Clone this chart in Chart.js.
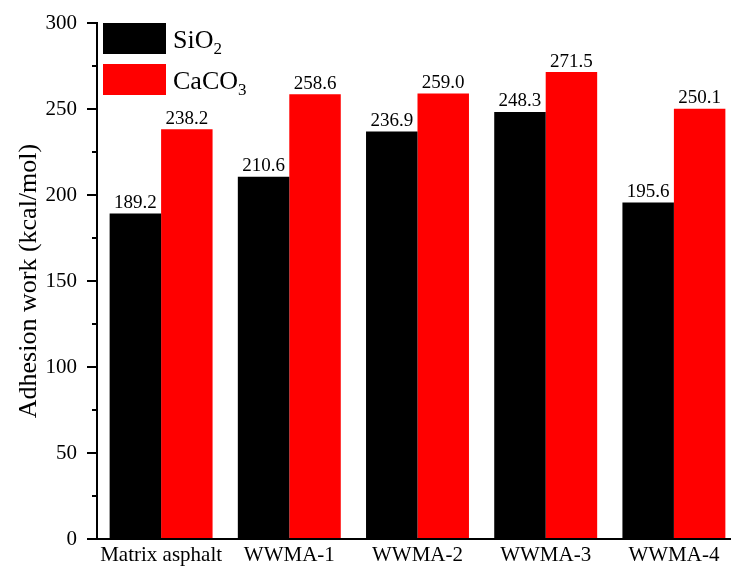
<!DOCTYPE html>
<html>
<head>
<meta charset="utf-8">
<script src="https://cdn.jsdelivr.net/npm/chart.js@4.4.1/dist/chart.umd.min.js"></script>
<style>
  html, body { margin: 0; padding: 0; background: #fff; overflow: hidden; }
  /* the plot runs a little past the right edge of the visible frame */
  #wrap { width: 731px; height: 570px; overflow: hidden; position: relative; }
  #c { position: absolute; left: 0; top: 0; }
</style>
</head>
<body>
<div id="wrap"><canvas id="c" width="738" height="570" style="width:738px;height:570px"></canvas></div>
<script>
// Adhesion work of each binder on two mineral surfaces
const categories = ['Matrix asphalt', 'WWMA-1', 'WWMA-2', 'WWMA-3', 'WWMA-4'];
const sio2Values = [189.2, 210.6, 236.9, 248.3, 195.6];
const caco3Values = [238.2, 258.6, 259.0, 271.5, 250.1];
const yTicks = [0, 50, 100, 150, 200, 250, 300];

const SERIF = '"Liberation Serif", "Times New Roman", serif';

// Value labels above every bar
const valueLabels = {
  id: 'valueLabels',
  afterDatasetsDraw(chart) {
    const ctx = chart.ctx;
    ctx.save();
    ctx.font = '19px ' + SERIF;
    ctx.fillStyle = '#000';
    ctx.textAlign = 'center';
    ctx.textBaseline = 'bottom';
    chart.data.datasets.forEach((ds, i) => {
      chart.getDatasetMeta(i).data.forEach((bar, j) => {
        ctx.fillText(ds.data[j].toFixed(1), bar.x, bar.y - 1);
      });
    });
    ctx.restore();
  }
};

// Minor ticks halfway between labelled ticks on the value axis
const minorTicks = {
  id: 'minorTicks',
  afterDraw(chart) {
    const y = chart.scales.y;
    const ctx = chart.ctx;
    ctx.save();
    ctx.strokeStyle = '#000';
    ctx.lineWidth = 2;
    for (let i = 0; i < yTicks.length - 1; i++) {
      const py = Math.round(y.getPixelForValue((yTicks[i] + yTicks[i + 1]) / 2));
      ctx.beginPath();
      ctx.moveTo(y.right - 5, py);
      ctx.lineTo(y.right, py);
      ctx.stroke();
    }
    ctx.restore();
  }
};

// Legend with chemical formula subscripts
const formulaLegend = {
  id: 'formulaLegend',
  afterDraw(chart) {
    const ctx = chart.ctx;
    const area = chart.chartArea;
    const x0 = area.left + 6;
    const entries = [
      { base: 'SiO', sub: '2', color: '#000000', top: area.top },
      { base: 'CaCO', sub: '3', color: '#ff0000', top: area.top + 41 }
    ];
    ctx.save();
    entries.forEach(e => {
      ctx.fillStyle = e.color;
      ctx.fillRect(x0, e.top, 63, 31);
      ctx.fillStyle = '#000';
      ctx.textBaseline = 'alphabetic';
      ctx.textAlign = 'left';
      ctx.font = '26px ' + SERIF;
      const tx = x0 + 70;
      const base = e.top + 25;
      ctx.fillText(e.base, tx, base);
      const w = ctx.measureText(e.base).width;
      ctx.font = '17px ' + SERIF;
      ctx.fillText(e.sub, tx + w, base + 6);
    });
    ctx.restore();
  }
};

new Chart(document.getElementById('c'), {
  type: 'bar',
  data: {
    labels: categories,
    datasets: [
      { label: 'SiO2', data: sio2Values, backgroundColor: '#000000', borderWidth: 0 },
      { label: 'CaCO3', data: caco3Values, backgroundColor: '#ff0000', borderWidth: 0 }
    ]
  },
  options: {
    responsive: false,
    animation: false,
    devicePixelRatio: 1,
    layout: { padding: { top: 23, right: 0, left: 0, bottom: 0 } },
    plugins: {
      legend: { display: false },
      tooltip: { enabled: false }
    },
    datasets: {
      bar: { categoryPercentage: 0.803, barPercentage: 1.0 }
    },
    scales: {
      x: {
        grid: { display: false, drawTicks: false },
        border: { display: true, color: '#000', width: 2 },
        ticks: {
          color: '#000',
          font: { family: SERIF, size: 21 },
          padding: 4,
          maxRotation: 0,
          autoSkip: false
        },
        afterFit(scale) { scale.height = 31; }
      },
      y: {
        min: 0,
        max: 300,
        afterBuildTicks(scale) { scale.ticks = yTicks.map(v => ({ value: v })); },
        grid: {
          drawOnChartArea: false,
          drawTicks: true,
          tickLength: 10,
          color: '#000',
          lineWidth: 2
        },
        border: { display: true, color: '#000', width: 2 },
        ticks: {
          color: '#000',
          font: { family: SERIF, size: 21 },
          padding: 10
        },
        title: {
          display: true,
          text: 'Adhesion work (kcal/mol)',
          color: '#000',
          font: { family: SERIF, size: 26 },
          padding: { top: 14, bottom: 4 }
        },
        afterFit(scale) { scale.width = 97; }
      }
    }
  },
  plugins: [valueLabels, minorTicks, formulaLegend]
});
</script>
</body>
</html>
